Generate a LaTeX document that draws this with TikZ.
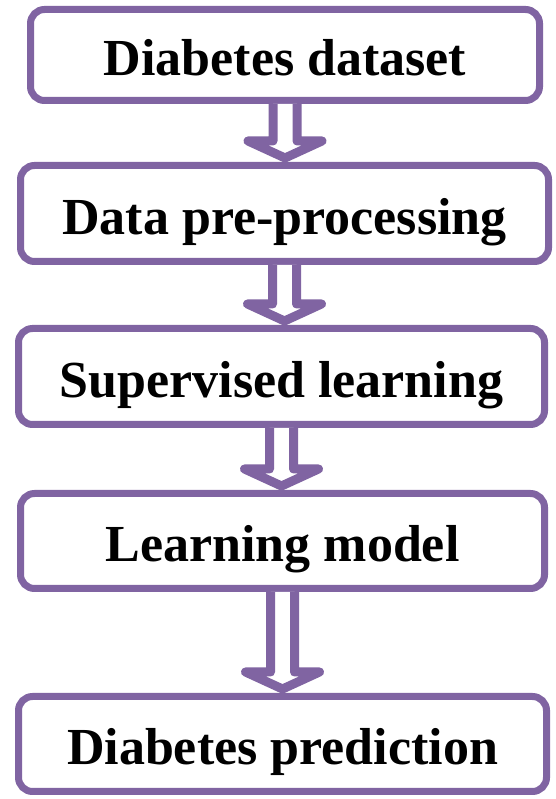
\documentclass[tikz,border=0pt]{standalone}
\usepackage{fontspec}
\setmainfont{Liberation Serif}
\usepackage{tikz}
\usetikzlibrary{calc}
\definecolor{boxpurple}{RGB}{128,100,162}

\tikzset{
    stagebox/.style = {rectangle,
    draw = boxpurple,
    line width = 7pt,
    rounded corners = 14pt,
    fill = white,
    inner sep = 0pt,
    text height = 42pt,
    text depth = 0pt,
    font = \fontsize{52}{60}\selectfont\bfseries},
    flowarrow/.style = {draw = boxpurple,
    line width = 9pt,
    fill = white,
    line join = round}
}

% block arrow from the bottom of one box to the top of the next
\newcommand{\stagearrow}[2]{%
    \draw[flowarrow] ($(#1.south)+(-12pt,0pt)$) -- ($(#1.south |- #2.north)+(-12pt,21pt)$)
    -- ($(#1.south |- #2.north)+(-37pt,21pt)$) -- ($(#1.south |- #2.north)+(0pt,4pt)$)
    -- ($(#1.south |- #2.north)+(37pt,21pt)$) -- ($(#1.south |- #2.north)+(12pt,21pt)$)
    -- ($(#1.south)+(12pt,0pt)$);}

\begin{document}
\begin{tikzpicture}[x=1pt,y=1pt]
    \useasboundingbox[fill=white] (0,0) rectangle (555,799);
    \node [stagebox, minimum width = 509pt, minimum height = 91pt] (dataset) at (285,744) {Diabetes dataset};
    \node [stagebox, minimum width = 528pt, minimum height = 96pt] (preproc) at (284.5,585.5) {Data pre-processing};
    \node [stagebox, minimum width = 526pt, minimum height = 96pt] (supervised) at (281.5,422.5) {Supervised learning};
    \node [stagebox, minimum width = 524pt, minimum height = 95pt] (model) at (282.5,258) {Learning model};
    \node [stagebox, minimum width = 528pt, minimum height = 95pt] (prediction) at (282.5,55) {Diabetes prediction};
    \stagearrow{dataset}{preproc}
    \stagearrow{preproc}{supervised}
    \stagearrow{supervised}{model}
    \stagearrow{model}{prediction}
\end{tikzpicture}
\end{document}
